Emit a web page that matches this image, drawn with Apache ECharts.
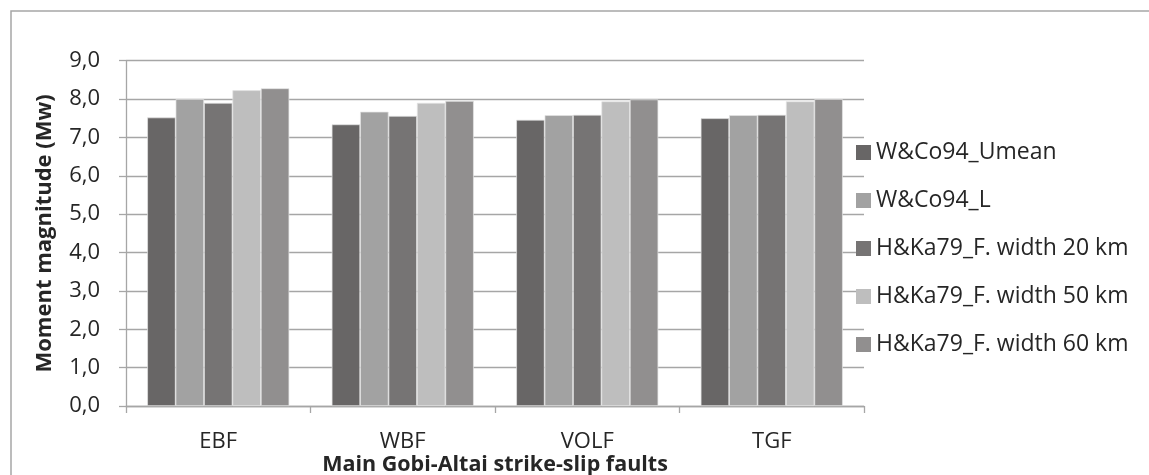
<!DOCTYPE html>
<html>
<head>
<meta charset="utf-8">
<script src="https://cdn.jsdelivr.net/npm/echarts@6/dist/echarts.min.js"></script>
<style>
  html, body { margin: 0; padding: 0; background: #fff; }
  #chart { width: 1149px; height: 475px; }
</style>
</head>
<body>
<div id="chart"></div>
<script>
// Estimated moment magnitudes for the main Gobi-Altai strike-slip faults
const faults = ['EBF', 'WBF', 'VOLF', 'TGF'];
const seriesNames = [
  'W&Co94_Umean',
  'W&Co94_L',
  'H&Ka79_F. width 20 km',
  'H&Ka79_F. width 50 km',
  'H&Ka79_F. width 60 km'
];
const wcUmean = [7.52, 7.34, 7.46, 7.50];
const wcL     = [8.00, 7.67, 7.58, 7.58];
const hk20    = [7.90, 7.56, 7.59, 7.59];
const hk50    = [8.23, 7.90, 7.94, 7.94];
const hk60    = [8.28, 7.95, 7.99, 8.00];
const yTicks = { min: 0, max: 9, step: 1 };

const values = [wcUmean, wcL, hk20, hk50, hk60];
const colors = ['#686666', '#a2a2a2', '#767474', '#bebebe', '#918f8f'];
const FONT = 'Open Sans';
const textColor = '#262626';

const chart = echarts.init(document.getElementById('chart'), null, { renderer: 'canvas' });

chart.setOption({
  animation: false,
  backgroundColor: '#fff',
  textStyle: { fontFamily: FONT },
  graphic: [{
    type: 'rect',
    shape: { x: 11, y: 11, width: 1160, height: 500 },
    style: { fill: 'none', stroke: '#a6a6a6', lineWidth: 1.5 },
    silent: true,
    z: -1
  }],
  grid: { left: 126, right: 285, top: 60.7, bottom: 69, containLabel: false, outerBoundsMode: 'none' },
  legend: {
    orient: 'vertical',
    left: 851,
    top: 136,
    itemWidth: 15,
    itemHeight: 15,
    itemGap: 25,
    itemStyle: { borderWidth: 0 },
    textStyle: { fontFamily: FONT, fontSize: 23, color: textColor },
    icon: 'rect',
    data: seriesNames
  },
  xAxis: {
    type: 'category',
    data: faults,
    name: 'Main Gobi-Altai strike-slip faults',
    nameLocation: 'middle',
    nameGap: 48,
    nameMoveOverlap: false,
    nameTextStyle: { fontFamily: FONT, fontSize: 21.5, fontWeight: 'bold', color: textColor },
    axisLine: { lineStyle: { color: '#a6a6a6', width: 1.3 } },
    axisTick: { show: true, length: 7, alignWithLabel: false, lineStyle: { color: '#a6a6a6', width: 1.3 } },
    axisLabel: { fontFamily: FONT, fontSize: 22, color: textColor, margin: 25 }
  },
  yAxis: {
    type: 'value',
    min: yTicks.min,
    max: yTicks.max,
    interval: yTicks.step,
    name: 'Moment magnitude (Mw)',
    nameLocation: 'middle',
    nameGap: 70,
    nameRotate: 90,
    nameMoveOverlap: false,
    nameTextStyle: { fontFamily: FONT, fontSize: 22, fontWeight: 'bold', color: textColor },
    axisLine: { show: true, lineStyle: { color: '#a6a6a6', width: 1.3 } },
    axisTick: { show: true, length: 7, inside: false, lineStyle: { color: '#a6a6a6', width: 1.3 } },
    axisLabel: {
      fontFamily: FONT, fontSize: 22, color: textColor, margin: 26,
      formatter: v => v.toFixed(1).replace('.', ',')
    },
    splitLine: { lineStyle: { color: '#a6a6a6', width: 1.3 } }
  },
  series: seriesNames.map((name, i) => ({
    name: name,
    type: 'bar',
    data: values[i],
    barGap: '0%',
    barCategoryGap: '23%',
    itemStyle: { color: colors[i], borderColor: '#e4e4e4', borderWidth: 0.7 }
  }))
});
</script>
</body>
</html>
